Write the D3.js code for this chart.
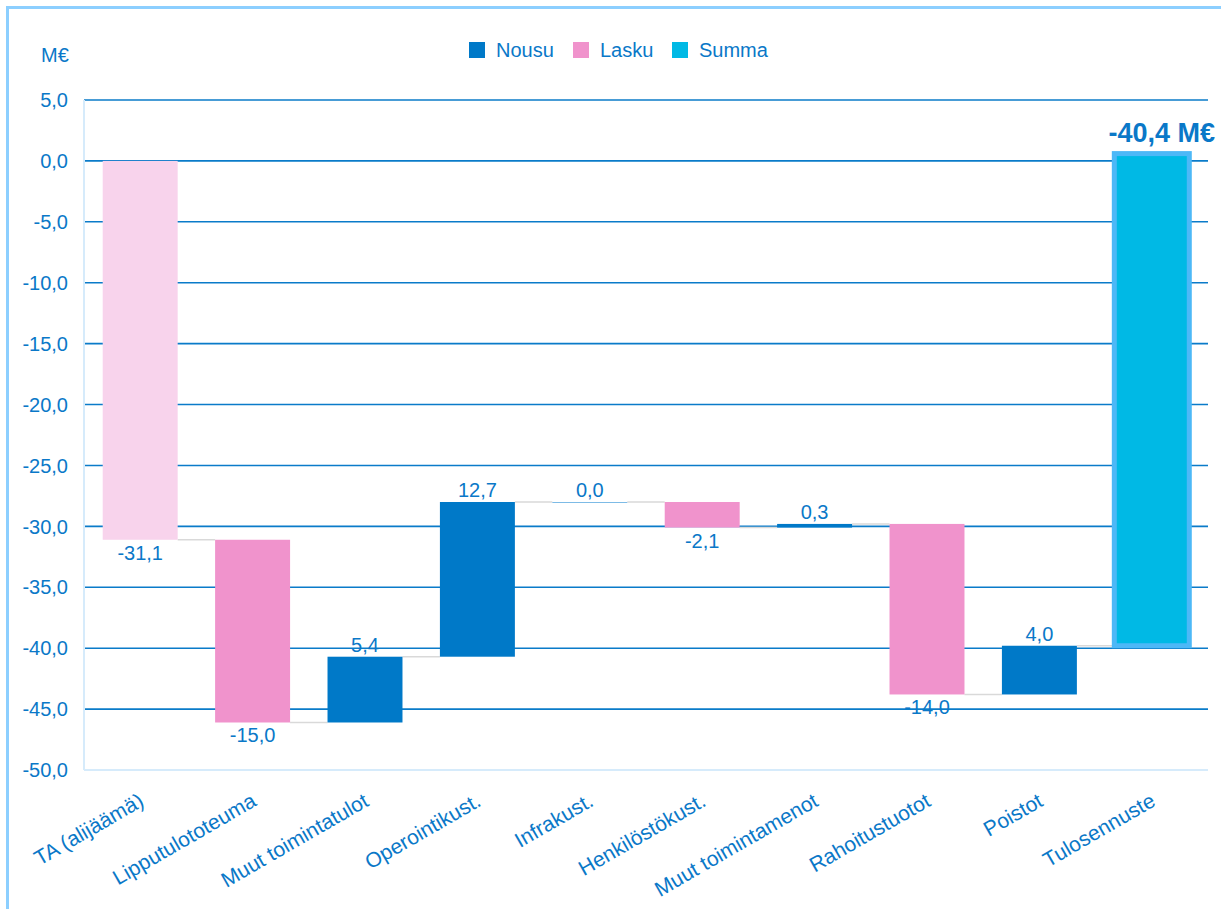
<!DOCTYPE html>
<html>
<head>
<meta charset="utf-8">
<script src="https://cdn.jsdelivr.net/npm/d3@7"></script>
<style>
  body { margin: 0; background: #fff; }
  svg text { font-family: "Liberation Sans", Arial, sans-serif; fill: #0a78c8; }
</style>
</head>
<body>
<svg id="chart" width="1221" height="909"></svg>
<script>
// waterfall data
let categories = ["TA (alijäämä)", "Lipputulototeuma", "Muut toimintatulot", "Operointikust.",
  "Infrakust.", "Henkilöstökust.", "Muut toimintamenot", "Rahoitustuotot", "Poistot", "Tulosennuste"];
let values = [-31.1, -15.0, 5.4, 12.7, 0.0, -2.1, 0.3, -14.0, 4.0, -40.4];
let kinds = ["alku", "lasku", "nousu", "nousu", "nousu", "lasku", "nousu", "lasku", "nousu", "summa"];
let yTicks = [5, 0, -5, -10, -15, -20, -25, -30, -35, -40, -45, -50];
let legendItems = ["Nousu", "Lasku", "Summa"];

let colors = { alku: "#f8d3ec", lasku: "#f093cc", nousu: "#0079c8", summa: "#00b9e5" };
let legendColors = ["#0079c8", "#f093cc", "#00b9e5"];
let fmt = function(v){ return d3.format(".1f")(v).replace(".", ",").replace("−", "-"); };

let svg = d3.select("#chart");

// outer frame (top + left)
svg.append("line").attr("x1", 7).attr("x2", 1221).attr("y1", 7.5).attr("y2", 7.5)
  .style("stroke", "#8ccfff").style("stroke-width", 3);
svg.append("line").attr("x1", 7.5).attr("x2", 7.5).attr("y1", 6).attr("y2", 909)
  .style("stroke", "#8ccfff").style("stroke-width", 3);

let x = d3.scaleBand().domain(categories).range([84, 1208]).paddingInner(0.333).paddingOuter(0.1665);
let y = d3.scaleLinear().domain([-50, 5]).range([770, 100]);

// running totals
let rows = [];
let cum = 0;
values.forEach(function(v, i){
  let start, end;
  if(kinds[i] == "summa"){
    start = cum; end = cum - v;   // summa drawn up from the last level
  }else{
    start = cum; end = cum + v; cum = end;
  }
  rows.push({ cat: categories[i], value: v, kind: kinds[i], start: start, end: end });
});

// gridlines
svg.append("g").selectAll("line")
  .data(yTicks.filter(function(d){ return d > -50; }))
  .enter().append("line")
    .attr("x1", 84).attr("x2", 1208)
    .attr("y1", function(d){ return y(d); }).attr("y2", function(d){ return y(d); })
    .style("stroke", "#0a7bc9").style("stroke-width", 1.6);

// plot frame
svg.append("line").attr("x1", 84).attr("x2", 84).attr("y1", 100).attr("y2", 770)
  .style("stroke", "#d6ebfb").style("stroke-width", 2);
svg.append("line").attr("x1", 84).attr("x2", 1208).attr("y1", 770).attr("y2", 770)
  .style("stroke", "#d6ebfb").style("stroke-width", 2);

// y tick labels
svg.append("g").selectAll("text")
  .data(yTicks)
  .enter().append("text")
    .attr("x", 68).attr("y", function(d){ return y(d); })
    .attr("dy", "0.36em")
    .attr("text-anchor", "end")
    .style("font-size", "20px")
    .text(fmt);

svg.append("text").attr("x", 41).attr("y", 62).style("font-size", "20px").text("M€");

// connectors
let bw = x.bandwidth();
svg.append("g").selectAll("line")
  .data(rows.slice(0, -1))
  .enter().append("line")
    .attr("x1", function(d){ return x(d.cat) + bw; })
    .attr("x2", function(d, i){ return x(rows[i + 1].cat); })
    .attr("y1", function(d){ return y(d.end); })
    .attr("y2", function(d){ return y(d.end); })
    .style("stroke", "#d9d9d9").style("stroke-width", 1.5);

// bars
svg.append("g").selectAll("rect")
  .data(rows)
  .enter().append("rect")
    .attr("x", function(d){ return x(d.cat); })
    .attr("width", bw)
    .attr("y", function(d){ return y(Math.max(d.start, d.end)); })
    .attr("height", function(d){ return Math.max(1, Math.abs(y(d.start) - y(d.end))); })
    .style("fill", function(d){ return d.value == 0 ? "#7dbbe6" : colors[d.kind]; })
    .style("stroke", function(d){ return d.kind == "summa" ? "#4db8f7" : "none"; })
    .style("stroke-width", function(d){ return d.kind == "summa" ? 5 : 0; });

// value labels
svg.append("g").selectAll("text")
  .data(rows)
  .enter().append("text")
    .attr("x", function(d){ return x(d.cat) + bw / 2 + (d.kind == "summa" ? 10 : 0); })
    .attr("y", function(d){
      if(d.kind == "summa"){ return y(Math.max(d.start, d.end)) - 12; }
      if(d.value < 0){ return y(Math.min(d.start, d.end)) + 20; }
      return y(Math.max(d.start, d.end)) - 5;
    })
    .attr("text-anchor", "middle")
    .style("font-size", function(d){ return d.kind == "summa" ? "27px" : "20px"; })
    .style("font-weight", function(d){ return d.kind == "summa" ? "bold" : "normal"; })
    .text(function(d){ return d.kind == "summa" ? fmt(d.value) + " M€" : fmt(d.value); });

// category labels
svg.append("g").selectAll("text")
  .data(categories)
  .enter().append("text")
    .attr("transform", function(d){ return "translate(" + (x(d) + bw / 2 + 5) + ",805) rotate(-30)"; })
    .attr("text-anchor", "end")
    .style("font-size", "21px")
    .text(function(d){ return d; });

// legend
let legendX = [469, 573, 672];
let legend = svg.append("g").selectAll("g")
  .data(legendItems)
  .enter().append("g")
    .attr("transform", function(d, i){ return "translate(" + legendX[i] + ",42)"; });
legend.append("rect").attr("width", 16).attr("height", 16)
  .style("fill", function(d, i){ return legendColors[i]; });
legend.append("text").attr("x", 27).attr("y", 15).style("font-size", "20px")
  .text(function(d){ return d; });
</script>
</body>
</html>
